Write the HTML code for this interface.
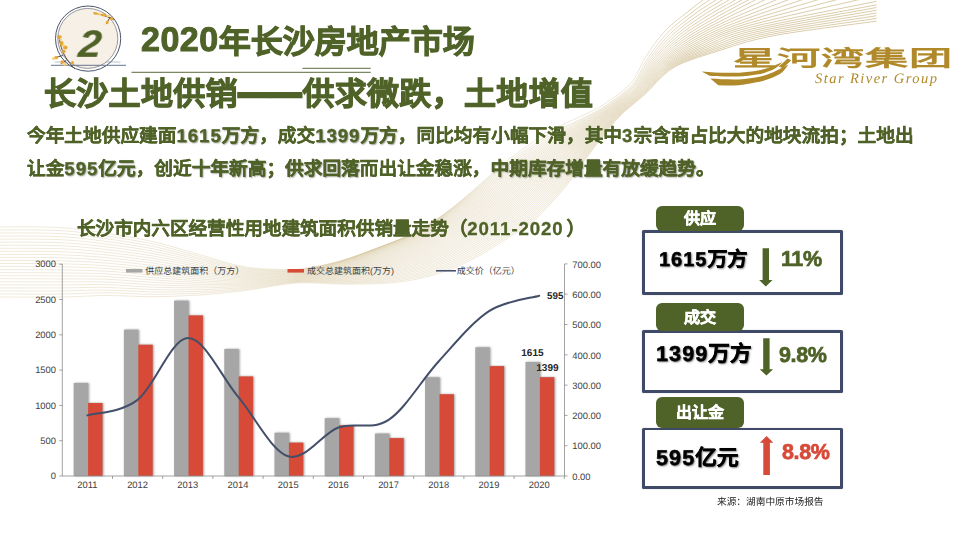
<!DOCTYPE html>
<html lang="zh-CN">
<head>
<meta charset="utf-8">
<title>2020年长沙房地产市场</title>
<style>
html,body{margin:0;padding:0;}
body{text-rendering:geometricPrecision;width:960px;height:540px;position:relative;overflow:hidden;background:#fff;font-family:"Liberation Sans",sans-serif;}
.abs{position:absolute;white-space:nowrap;}
div.abs,.lab{will-change:transform;}
#bg{position:absolute;left:0;top:0;}
.h1{left:141px;top:22px;font-size:32px;font-weight:bold;color:#4f6228;line-height:40px;-webkit-text-stroke:1px #4f6228;}
.d{letter-spacing:0.05em;}
.d2{letter-spacing:0.9px;}
.h2{left:44px;top:74px;font-size:32px;font-weight:bold;color:#4f6228;line-height:40px;letter-spacing:0.3px;-webkit-text-stroke:1px #4f6228;}
.p{left:27px;font-size:18.67px;font-weight:bold;color:#4f6228;line-height:28px;-webkit-text-stroke:0.3px #4f6228;}
.em{text-shadow:1px 1px 1.5px rgba(30,40,10,.5);}
.ct{left:77px;top:215.5px;letter-spacing:-0.07px;font-size:18.67px;font-weight:bold;color:#4f6228;line-height:26px;-webkit-text-stroke:0.3px #4f6228;}
.badge-num{left:73.3px;top:25px;width:34px;text-align:center;font-size:38px;-webkit-text-stroke:0.2px #4f6228;transform:scaleX(1.08) skewX(-5deg);font-weight:bold;font-style:italic;color:#4f6228;line-height:40px;}
.box{position:absolute;left:642px;width:201px;border-radius:1.5px;background:#3f4a68;box-shadow:0 0 2px rgba(0,0,0,.15);}
.box::after{content:"";position:absolute;left:2.7px;top:2.7px;right:2.7px;bottom:2.7px;background:#fff;}
.lab{position:absolute;left:656px;width:88px;height:25px;border-radius:6px;background:#4f6228;color:#fff;font-weight:bold;font-size:16px;line-height:26px;text-align:center;-webkit-text-stroke:0.5px #fff;}
.val{font-size:20px;font-weight:bold;color:#000;line-height:26px;text-shadow:1px 1px 2px rgba(0,0,0,.6);-webkit-text-stroke:0.5px #000;}
.pct{font-size:21.5px;font-weight:bold;line-height:26px;-webkit-text-stroke:0.7px currentColor;letter-spacing:-0.4px;}
.src{left:717px;top:496px;font-size:9.7px;color:#222;line-height:14px;}
.logo{left:733px;top:42.5px;letter-spacing:0.45px;font-size:22px;color:#b08a2a;line-height:32px;font-weight:bold;transform-origin:0 0;transform:scaleX(1.96);}
.logo2{left:815px;top:71px;font-family:"Liberation Serif",serif;font-style:italic;font-size:14.5px;color:#b08a2a;line-height:16px;letter-spacing:1.45px;}
</style>
</head>
<body>
<svg id="bg" width="960" height="540" viewBox="0 0 960 540">
<defs><clipPath id="rc"><rect x="0" y="0" width="876.5" height="540"/></clipPath><linearGradient id="rg" gradientUnits="userSpaceOnUse" x1="0" y1="0" x2="960" y2="0"><stop offset="0" stop-color="#c6b078" stop-opacity="0.45"/><stop offset="0.2" stop-color="#c6b078" stop-opacity="0.48"/><stop offset="0.3" stop-color="#c6b078" stop-opacity="0.4"/><stop offset="0.36" stop-color="#c2aa70" stop-opacity="0.38"/><stop offset="0.5" stop-color="#c2aa70" stop-opacity="0.46"/><stop offset="0.62" stop-color="#c2aa70" stop-opacity="0.46"/><stop offset="0.67" stop-color="#c2aa70" stop-opacity="0.5"/><stop offset="0.72" stop-color="#bfa669" stop-opacity="0.9"/><stop offset="1" stop-color="#bfa669" stop-opacity="1"/></linearGradient><linearGradient id="rg2" gradientUnits="userSpaceOnUse" x1="0" y1="0" x2="960" y2="0"><stop offset="0.295" stop-color="#c2aa70" stop-opacity="0"/><stop offset="0.38" stop-color="#c2aa70" stop-opacity="0.38"/><stop offset="0.5" stop-color="#c2aa70" stop-opacity="0.46"/><stop offset="0.61" stop-color="#c2aa70" stop-opacity="0.46"/><stop offset="0.657" stop-color="#c2aa70" stop-opacity="0"/></linearGradient></defs>
<g clip-path="url(#rc)" fill="none" stroke="url(#rg)" stroke-width="0.6">
<path d="M-40.0 228.0C-34.2 227.8 -21.7 227.1 -5.0 227.0C11.7 226.9 41.5 226.5 60.0 227.6C78.5 228.7 90.7 231.0 106.0 233.3C121.3 235.6 136.7 238.0 152.0 241.4C167.3 244.8 182.3 249.8 197.6 254.0C212.8 258.2 229.3 264.0 243.5 266.6C257.7 269.2 272.8 269.2 283.0 269.5C293.2 269.8 295.5 269.7 305.0 268.3C314.5 266.9 328.0 264.4 340.0 261.0C352.0 257.6 364.7 252.7 377.0 248.0C389.3 243.3 403.5 238.2 414.0 233.0C424.5 227.8 432.0 222.5 440.0 217.0C448.0 211.5 454.5 206.2 462.0 200.0C469.5 193.8 477.6 186.5 485.0 180.0C492.4 173.5 499.4 166.8 506.7 161.0C514.0 155.2 522.3 149.8 529.0 145.0C535.7 140.2 539.0 136.3 546.7 132.0C554.4 127.7 565.6 123.5 575.0 119.0C584.4 114.5 593.7 111.0 603.0 105.0C612.3 99.0 624.0 90.8 631.0 83.0C638.0 75.2 639.3 66.7 645.0 58.0C650.7 49.3 657.5 39.0 665.0 31.0C672.5 23.0 683.7 15.2 690.0 10.0C696.3 4.8 699.8 2.5 703.0 0.0C706.2 -2.5 708.4 -4.2 709.5 -5.0"/>
<path d="M-40.0 231.0C-34.2 230.8 -21.7 230.1 -5.0 230.0C11.7 230.0 41.5 229.6 60.0 230.6C78.5 231.6 90.7 233.8 106.0 236.0C121.3 238.2 136.7 240.5 152.0 243.8C167.3 247.1 182.4 251.8 197.7 255.8C213.0 259.8 229.3 265.2 243.6 267.6C257.8 270.0 272.8 270.0 283.0 270.2C293.2 270.3 295.5 270.2 305.0 268.8C314.5 267.3 328.1 264.7 340.1 261.3C352.1 257.9 364.8 252.9 377.2 248.2C389.5 243.6 403.7 238.4 414.2 233.3C424.7 228.1 432.2 222.8 440.3 217.4C448.4 211.9 455.0 206.7 462.7 200.7C470.4 194.7 478.7 187.7 486.4 181.4C494.1 175.1 501.3 168.7 509.0 163.1C516.7 157.5 525.4 152.5 532.4 147.8C539.4 143.2 543.3 139.5 551.0 135.1C558.6 130.8 569.2 126.5 578.3 121.7C587.3 117.0 596.2 112.7 605.2 106.4C614.3 100.2 625.5 92.2 632.6 84.3C639.6 76.3 641.4 67.5 647.3 58.8C653.2 50.1 660.3 40.2 668.0 32.2C675.7 24.3 686.7 16.5 693.6 11.1C700.5 5.7 705.5 2.8 709.5 0.0C713.4 -2.8 716.1 -4.6 717.4 -5.6"/>
<path d="M-40.0 234.0C-34.2 233.8 -21.7 233.1 -5.0 233.1C11.7 233.0 41.5 232.7 60.0 233.6C78.5 234.6 90.7 236.6 106.0 238.7C121.3 240.8 136.7 243.1 152.0 246.2C167.3 249.4 182.5 253.8 197.8 257.6C213.1 261.3 229.4 266.5 243.6 268.7C257.8 270.9 272.8 270.7 283.0 270.8C293.2 270.9 295.4 270.8 305.0 269.3C314.6 267.8 328.3 265.2 340.3 261.8C352.4 258.3 365.1 253.3 377.5 248.7C389.8 244.0 404.0 238.9 414.6 233.8C425.1 228.7 432.7 223.4 440.9 218.1C449.1 212.7 455.9 207.6 463.7 201.7C471.6 195.9 480.2 189.1 488.1 183.0C496.0 176.9 503.3 170.5 511.2 165.0C519.0 159.5 527.9 154.6 535.0 150.0C542.0 145.3 546.1 141.5 553.6 137.1C561.2 132.6 571.3 128.3 580.1 123.3C588.9 118.3 597.6 113.6 606.5 107.2C615.4 100.9 626.5 93.0 633.5 85.1C640.6 77.1 642.8 68.0 649.0 59.4C655.1 50.8 662.5 41.2 670.6 33.3C678.6 25.5 689.7 17.8 697.2 12.2C704.8 6.7 711.3 3.1 715.9 0.0C720.6 -3.1 723.7 -5.1 725.3 -6.1"/>
<path d="M-40.0 237.0C-34.2 236.9 -21.7 236.2 -5.0 236.1C11.7 236.1 41.5 235.8 60.0 236.7C78.5 237.5 90.7 239.4 106.0 241.4C121.3 243.4 136.7 245.6 152.0 248.6C167.3 251.6 182.6 255.8 197.9 259.3C213.2 262.9 229.5 267.7 243.7 269.7C257.9 271.7 272.8 271.4 283.0 271.5C293.2 271.5 295.4 271.4 305.0 269.8C314.6 268.3 328.4 265.8 340.6 262.3C352.7 258.9 365.5 253.9 377.9 249.3C390.3 244.7 404.4 239.6 415.1 234.5C425.7 229.5 433.3 224.2 441.6 218.9C450.0 213.7 456.9 208.6 464.9 202.9C472.9 197.2 481.7 190.7 489.8 184.7C497.8 178.7 505.3 172.4 513.2 166.9C521.1 161.5 530.1 156.6 537.2 151.9C544.3 147.2 548.5 143.3 555.9 138.7C563.3 134.2 573.0 129.7 581.7 124.6C590.3 119.5 598.7 114.4 607.5 107.9C616.3 101.5 627.2 93.7 634.4 85.7C641.5 77.7 644.1 68.5 650.5 60.0C656.9 51.4 664.6 42.1 673.0 34.4C681.4 26.6 692.6 19.1 700.8 13.4C709.1 7.6 717.0 3.3 722.4 0.0C727.8 -3.3 731.4 -5.6 733.2 -6.7"/>
<path d="M-40.0 240.0C-34.2 239.9 -21.7 239.2 -5.0 239.2C11.7 239.1 41.5 238.8 60.0 239.7C78.5 240.5 90.7 242.2 106.0 244.1C121.3 246.0 136.7 248.2 152.0 251.0C167.3 253.9 182.7 257.8 198.0 261.1C213.3 264.4 229.6 268.9 243.8 270.8C257.9 272.6 272.8 272.2 283.0 272.1C293.2 272.1 295.4 271.9 305.0 270.4C314.6 268.9 328.6 266.4 340.9 263.0C353.1 259.6 365.9 254.7 378.4 250.1C390.9 245.5 405.0 240.4 415.7 235.4C426.4 230.4 434.1 225.2 442.5 220.0C451.0 214.8 458.0 209.8 466.2 204.2C474.4 198.6 483.4 192.3 491.6 186.4C499.8 180.5 507.3 174.2 515.3 168.8C523.3 163.3 532.3 158.4 539.4 153.6C546.5 148.9 550.7 144.9 558.0 140.2C565.2 135.6 574.6 131.0 583.0 125.7C591.4 120.5 599.8 115.1 608.5 108.5C617.1 102.0 627.9 94.4 635.1 86.4C642.4 78.3 645.2 69.0 651.9 60.5C658.6 52.0 666.6 43.0 675.4 35.4C684.1 27.7 695.5 20.4 704.4 14.5C713.4 8.6 722.8 3.6 728.9 0.0C735.0 -3.6 739.1 -6.0 741.1 -7.2"/>
<path d="M-40.0 243.0C-34.2 242.9 -21.7 242.3 -5.0 242.2C11.7 242.2 41.5 241.9 60.0 242.7C78.5 243.5 90.7 245.0 106.0 246.8C121.3 248.6 136.6 250.7 152.0 253.4C167.4 256.1 182.8 259.9 198.1 262.9C213.4 266.0 229.7 270.2 243.8 271.8C258.0 273.4 272.8 272.9 283.0 272.8C293.2 272.6 295.3 272.5 305.0 271.0C314.7 269.5 328.8 267.1 341.2 263.7C353.5 260.4 366.5 255.5 379.0 251.0C391.5 246.4 405.7 241.4 416.4 236.4C427.2 231.5 435.0 226.3 443.5 221.2C452.1 216.0 459.3 211.1 467.6 205.6C475.9 200.1 485.1 194.0 493.4 188.2C501.7 182.4 509.3 176.1 517.3 170.6C525.3 165.1 534.3 160.2 541.4 155.3C548.5 150.5 552.7 146.4 559.9 141.6C567.0 136.9 576.0 132.2 584.3 126.8C592.5 121.4 600.7 115.7 609.3 109.1C617.9 102.4 628.5 94.9 635.8 86.9C643.1 78.9 646.3 69.4 653.3 60.9C660.2 52.5 668.5 43.9 677.7 36.3C686.8 28.8 698.4 21.7 708.0 15.6C717.7 9.6 728.5 3.9 735.3 0.0C742.2 -3.9 746.7 -6.5 749.0 -7.8"/>
<path d="M-40.0 246.0C-34.2 245.9 -21.7 245.3 -5.0 245.3C11.7 245.2 41.5 245.0 60.0 245.7C78.5 246.4 90.7 247.8 106.0 249.5C121.3 251.2 136.6 253.3 152.0 255.8C167.4 258.4 182.9 261.9 198.2 264.7C213.5 267.5 229.8 271.4 243.9 272.8C258.0 274.3 272.8 273.6 283.0 273.4C293.2 273.2 295.2 273.1 305.0 271.6C314.8 270.1 329.1 267.8 341.5 264.5C354.0 261.3 367.1 256.5 379.7 252.0C392.3 247.5 406.4 242.5 417.3 237.6C428.1 232.7 436.0 227.5 444.7 222.5C453.3 217.4 460.7 212.6 469.1 207.1C477.6 201.7 486.9 195.8 495.3 190.0C503.6 184.3 511.3 178.0 519.3 172.4C527.4 166.9 536.3 161.9 543.3 156.9C550.4 152.0 554.6 147.8 561.7 142.9C568.7 138.1 577.4 133.3 585.4 127.8C593.5 122.2 601.6 116.3 610.1 109.6C618.6 102.9 629.1 95.5 636.5 87.5C643.9 79.4 647.3 69.8 654.6 61.4C661.8 53.0 670.4 44.7 679.9 37.3C689.4 29.8 701.3 22.9 711.7 16.7C722.0 10.5 734.3 4.2 741.8 0.0C749.4 -4.2 754.4 -7.0 756.9 -8.4"/>
<path d="M-40.0 249.0C-34.2 248.9 -21.7 248.4 -5.0 248.3C11.7 248.3 41.5 248.1 60.0 248.7C78.5 249.4 90.7 250.6 106.0 252.2C121.3 253.8 136.6 255.9 152.0 258.2C167.4 260.6 183.0 263.9 198.3 266.5C213.7 269.1 229.8 272.6 244.0 273.9C258.1 275.1 272.8 274.3 283.0 274.1C293.2 273.8 295.2 273.7 305.0 272.2C314.8 270.8 329.3 268.6 341.9 265.4C354.5 262.2 367.7 257.5 380.4 253.1C393.1 248.6 407.3 243.7 418.2 238.9C429.1 234.0 437.1 228.9 445.9 223.9C454.6 218.9 462.2 214.1 470.7 208.7C479.3 203.4 488.7 197.6 497.2 191.9C505.6 186.1 513.3 179.8 521.3 174.2C529.3 168.7 538.2 163.5 545.2 158.5C552.2 153.5 556.5 149.1 563.4 144.2C570.2 139.2 578.6 134.4 586.5 128.7C594.5 123.0 602.4 116.9 610.8 110.1C619.3 103.3 629.6 96.0 637.1 88.0C644.6 79.9 648.3 70.2 655.8 61.9C663.3 53.6 672.2 45.5 682.1 38.2C692.0 30.9 704.2 24.2 715.3 17.9C726.3 11.5 740.0 4.5 748.3 0.0C756.5 -4.5 762.0 -7.4 764.8 -8.9"/>
<path d="M-40.0 252.0C-34.2 251.9 -21.7 251.4 -5.0 251.3C11.7 251.3 41.5 251.1 60.0 251.7C78.5 252.3 90.7 253.5 106.0 254.9C121.3 256.4 136.6 258.4 152.0 260.6C167.4 262.9 183.1 265.9 198.4 268.3C213.8 270.6 229.9 273.8 244.0 274.9C258.1 276.0 272.8 275.1 283.0 274.7C293.2 274.4 295.1 274.2 305.0 272.8C314.9 271.4 329.6 269.4 342.3 266.3C355.0 263.2 368.4 258.6 381.2 254.3C394.1 249.9 408.2 245.1 419.2 240.3C430.2 235.5 438.3 230.4 447.2 225.4C456.0 220.4 463.7 215.7 472.4 210.4C481.0 205.1 490.6 199.5 499.1 193.8C507.6 188.0 515.3 181.7 523.3 176.0C531.3 170.4 540.1 165.1 547.0 160.0C554.0 154.9 558.2 150.4 565.0 145.4C571.7 140.3 579.8 135.4 587.6 129.6C595.3 123.8 603.2 117.4 611.6 110.5C619.9 103.7 630.1 96.5 637.7 88.4C645.3 80.4 649.3 70.5 657.0 62.3C664.8 54.1 674.0 46.3 684.3 39.1C694.6 31.9 707.1 25.5 718.9 19.0C730.7 12.5 746.1 4.7 755.2 0.0C764.2 -4.7 770.3 -7.9 773.3 -9.5"/>
<path d="M-40.0 255.0C-34.2 254.9 -21.7 254.4 -5.0 254.4C11.7 254.4 41.5 254.2 60.0 254.8C78.5 255.3 90.7 256.3 106.0 257.6C121.3 259.0 136.6 261.0 152.0 263.0C167.4 265.1 183.2 267.9 198.5 270.0C213.9 272.2 230.0 275.1 244.1 276.0C258.2 276.8 272.8 275.8 283.0 275.4C293.2 275.0 295.1 274.8 305.0 273.5C314.9 272.1 329.8 270.2 342.7 267.2C355.5 264.3 369.2 259.8 382.1 255.6C395.1 251.3 409.2 246.5 420.2 241.8C431.3 237.0 439.6 232.0 448.6 227.0C457.5 222.1 465.4 217.3 474.1 212.1C482.9 206.9 492.5 201.4 501.0 195.7C509.6 190.0 517.3 183.5 525.3 177.8C533.2 172.1 541.9 166.7 548.8 161.5C555.7 156.3 559.9 151.7 566.6 146.5C573.2 141.3 581.0 136.3 588.6 130.4C596.2 124.5 604.0 117.9 612.2 111.0C620.5 104.1 630.6 97.0 638.3 88.9C645.9 80.9 650.2 70.9 658.2 62.7C666.3 54.6 675.8 47.1 686.5 40.0C697.2 32.9 709.5 26.8 722.5 20.1C735.4 13.4 753.8 5.0 764.3 0.0C774.8 -5.0 781.7 -8.4 785.2 -10.0"/>
<path d="M-40.0 258.0C-34.2 257.9 -21.7 257.5 -5.0 257.4C11.7 257.4 41.5 257.3 60.0 257.8C78.5 258.3 90.7 259.1 106.0 260.3C121.3 261.6 136.6 263.5 152.0 265.4C167.4 267.4 183.3 269.9 198.6 271.8C214.0 273.8 230.1 276.3 244.2 277.0C258.2 277.7 272.9 276.5 283.0 276.0C293.1 275.5 295.0 275.4 305.0 274.1C315.0 272.8 330.1 271.1 343.1 268.2C356.1 265.4 370.0 261.1 383.1 257.0C396.1 252.8 410.2 248.1 421.4 243.4C432.5 238.7 441.0 233.7 450.0 228.8C459.1 223.8 467.1 219.1 475.9 213.9C484.7 208.7 494.4 203.3 503.0 197.6C511.6 191.9 519.3 185.4 527.2 179.6C535.2 173.8 543.8 168.3 550.6 163.0C557.4 157.6 561.6 152.9 568.1 147.6C574.6 142.3 582.1 137.3 589.5 131.2C597.0 125.2 604.7 118.4 612.9 111.4C621.1 104.4 631.1 97.4 638.8 89.4C646.6 81.3 651.1 71.2 659.4 63.1C667.7 55.1 677.5 47.9 688.6 40.9C699.7 33.9 711.6 28.0 726.1 21.2C740.6 14.4 763.4 5.3 775.8 0.0C788.2 -5.3 796.5 -8.8 800.6 -10.6"/>
<path d="M-40.0 261.0C-34.2 260.9 -21.7 260.5 -5.0 260.5C11.7 260.4 41.5 260.4 60.0 260.8C78.5 261.2 90.7 261.9 106.0 263.0C121.3 264.2 136.5 266.1 152.0 267.8C167.5 269.6 183.4 271.9 198.7 273.6C214.1 275.3 230.2 277.5 244.2 278.0C258.3 278.5 272.9 277.2 283.0 276.7C293.1 276.1 294.9 276.0 305.0 274.7C315.1 273.5 330.4 272.0 343.6 269.3C356.7 266.5 370.9 262.5 384.1 258.4C397.2 254.4 411.4 249.8 422.6 245.1C433.9 240.5 442.4 235.5 451.6 230.6C460.8 225.7 468.8 220.9 477.7 215.7C486.6 210.5 496.4 205.3 505.0 199.5C513.6 193.8 521.3 187.2 529.2 181.3C537.1 175.5 545.6 169.8 552.3 164.4C559.0 159.0 563.2 154.1 569.6 148.7C575.9 143.3 583.1 138.2 590.5 132.0C597.8 125.9 605.4 118.8 613.5 111.8C621.7 104.8 631.5 97.8 639.4 89.8C647.2 81.8 652.0 71.5 660.5 63.5C669.1 55.5 679.2 48.7 690.7 41.8C702.3 34.9 713.5 29.3 729.7 22.3C745.9 15.4 773.2 5.6 787.7 0.0C802.2 -5.6 811.9 -9.3 816.8 -11.2"/>
<path d="M-40.0 264.0C-34.2 263.9 -21.7 263.6 -5.0 263.5C11.7 263.5 41.5 263.4 60.0 263.8C78.5 264.2 90.7 264.7 106.0 265.8C121.3 266.8 136.5 268.6 152.0 270.3C167.5 271.9 183.5 273.9 198.9 275.4C214.2 276.9 230.3 278.7 244.3 279.1C258.3 279.4 272.9 277.9 283.0 277.3C293.1 276.7 294.8 276.6 305.0 275.4C315.2 274.2 330.7 272.9 344.0 270.3C357.4 267.8 371.8 263.9 385.1 260.0C398.4 256.1 412.5 251.5 423.9 246.9C435.2 242.3 443.9 237.3 453.2 232.5C462.5 227.6 470.6 222.8 479.6 217.6C488.6 212.4 498.4 207.3 507.0 201.5C515.6 195.8 523.3 189.1 531.1 183.1C538.9 177.1 547.3 171.4 554.0 165.8C560.6 160.2 564.8 155.3 571.0 149.8C577.2 144.3 584.2 139.0 591.4 132.8C598.6 126.5 606.1 119.3 614.1 112.2C622.2 105.1 632.0 98.3 639.9 90.2C647.8 82.2 652.8 71.9 661.6 63.9C670.5 56.0 680.9 49.4 692.8 42.7C704.8 35.9 715.2 30.6 733.3 23.5C751.4 16.3 784.3 5.9 801.3 0.0C818.3 -5.9 829.6 -9.8 835.3 -11.7"/>
<path d="M-40.0 267.0C-34.2 266.9 -21.7 266.6 -5.0 266.6C11.7 266.5 41.5 266.5 60.0 266.8C78.5 267.1 90.7 267.5 106.0 268.5C121.3 269.4 136.5 271.2 152.0 272.7C167.5 274.1 183.6 275.9 199.0 277.2C214.3 278.4 230.3 280.0 244.3 280.1C258.4 280.2 272.9 278.7 283.0 278.0C293.1 277.3 294.8 277.1 305.0 276.0C315.2 275.0 331.0 273.8 344.5 271.4C358.0 269.0 372.8 265.4 386.2 261.6C399.7 257.9 413.8 253.4 425.2 248.8C436.7 244.3 445.5 239.3 454.9 234.4C464.3 229.5 472.5 224.7 481.5 219.5C490.6 214.4 500.4 209.3 509.0 203.5C517.6 197.7 525.3 190.9 533.0 184.8C540.8 178.8 549.1 172.9 555.6 167.2C562.2 161.5 566.3 156.4 572.4 150.8C578.5 145.2 585.2 139.9 592.3 133.5C599.3 127.1 606.7 119.7 614.7 112.6C622.8 105.5 632.4 98.7 640.4 90.6C648.4 82.6 653.7 72.2 662.7 64.3C671.8 56.5 682.6 50.2 694.9 43.6C707.3 36.9 716.6 31.8 736.9 24.6C757.3 17.3 797.0 6.1 817.0 0.0C837.1 -6.1 850.4 -10.2 857.1 -12.3"/>
<path d="M-40.0 270.0C-34.2 269.9 -21.7 269.6 -5.0 269.6C11.7 269.6 41.5 269.6 60.0 269.8C78.5 270.1 90.7 270.3 106.0 271.2C121.3 272.0 136.5 273.8 152.0 275.1C167.5 276.4 183.7 277.9 199.1 279.0C214.5 280.0 230.4 281.2 244.4 281.1C258.4 281.1 272.9 279.4 283.0 278.6C293.1 277.9 294.7 277.7 305.0 276.7C315.3 275.7 331.3 274.8 345.0 272.6C358.7 270.4 373.8 267.0 387.4 263.4C401.0 259.7 415.1 255.3 426.7 250.8C438.2 246.3 447.1 241.4 456.6 236.5C466.1 231.6 474.4 226.7 483.5 221.5C492.6 216.3 502.5 211.3 511.1 205.5C519.6 199.7 527.3 192.7 535.0 186.6C542.7 180.4 550.8 174.3 557.2 168.5C563.7 162.7 567.8 157.5 573.8 151.8C579.7 146.1 586.2 140.7 593.1 134.2C600.0 127.7 607.3 120.2 615.3 113.0C623.3 105.8 632.8 99.1 640.9 91.1C649.0 83.0 654.5 72.5 663.8 64.7C673.2 57.0 684.2 50.9 697.0 44.4C709.8 37.9 717.4 33.1 740.5 25.7C763.6 18.3 811.8 6.4 835.6 0.0C859.3 -6.4 875.2 -10.7 883.1 -12.9"/>
<path d="M-40.0 273.0C-34.2 272.9 -21.7 272.7 -5.0 272.7C11.7 272.6 41.5 272.7 60.0 272.9C78.5 273.1 90.7 273.1 106.0 273.9C121.3 274.6 136.5 276.3 152.0 277.5C167.5 278.6 183.8 280.0 199.2 280.7C214.6 281.5 230.5 282.4 244.5 282.2C258.5 281.9 272.9 280.1 283.0 279.3C293.1 278.5 294.6 278.3 305.0 277.4C315.4 276.4 331.6 275.8 345.5 273.8C359.4 271.7 374.8 268.6 388.6 265.2C402.4 261.7 416.5 257.3 428.1 252.9C439.8 248.5 448.9 243.5 458.4 238.6C468.0 233.7 476.4 228.7 485.5 223.5C494.6 218.3 504.6 213.4 513.1 207.5C521.7 201.6 529.3 194.6 536.9 188.3C544.5 182.0 552.5 175.8 558.8 169.9C565.2 163.9 569.2 158.6 575.1 152.8C580.9 146.9 587.1 141.5 593.9 134.9C600.7 128.3 608.0 120.6 615.9 113.3C623.8 106.1 633.2 99.5 641.4 91.5C649.5 83.4 655.3 72.8 664.9 65.1C674.5 57.4 685.8 51.7 699.0 45.3C712.2 38.9 717.7 34.4 744.1 26.8C770.5 19.3 829.0 6.7 857.3 0.0C885.7 -6.7 904.5 -11.2 914.0 -13.4"/>
<path d="M-40.0 276.0C-34.2 275.9 -21.7 275.7 -5.0 275.7C11.7 275.7 41.5 275.7 60.0 275.9C78.5 276.0 90.7 275.9 106.0 276.6C121.3 277.2 136.5 278.9 152.0 279.9C167.5 280.9 183.8 282.0 199.3 282.5C214.7 283.1 230.6 283.7 244.5 283.2C258.5 282.8 272.9 280.8 283.0 279.9C293.1 279.1 294.5 278.9 305.0 278.0C315.5 277.2 331.9 276.8 346.0 275.0C360.2 273.1 375.9 270.3 389.9 267.0C403.8 263.7 417.9 259.4 429.7 255.0C441.4 250.7 450.7 245.7 460.3 240.8C470.0 235.9 478.4 230.8 487.6 225.6C496.7 220.4 506.7 215.4 515.2 209.5C523.7 203.6 531.3 196.4 538.8 190.0C546.3 183.7 554.1 177.2 560.4 171.2C566.7 165.1 570.7 159.7 576.4 153.7C582.1 147.8 588.1 142.3 594.7 135.6C601.4 128.9 608.6 121.0 616.4 113.7C624.3 106.4 633.6 99.9 641.9 91.8C650.1 83.8 656.1 73.1 665.9 65.5C675.8 57.9 687.4 52.4 701.1 46.1C714.7 39.9 719.1 35.3 747.7 27.9C776.3 20.6 841.4 8.6 872.7 2.1C903.9 -4.4 924.7 -8.7 935.1 -10.8"/>
<path d="M-40.0 279.0C-34.2 279.0 -21.7 278.8 -5.0 278.7C11.7 278.7 41.5 278.8 60.0 278.9C78.5 279.0 90.7 278.7 106.0 279.3C121.3 279.8 136.4 281.4 152.0 282.3C167.6 283.1 183.9 284.0 199.4 284.3C214.8 284.6 230.7 284.9 244.6 284.3C258.5 283.6 272.9 281.5 283.0 280.6C293.1 279.7 294.4 279.4 305.0 278.7C315.6 278.0 332.2 277.8 346.5 276.2C360.9 274.6 377.1 272.1 391.2 269.0C405.3 265.8 419.4 261.6 431.3 257.3C443.1 253.0 452.5 248.0 462.2 243.1C472.0 238.1 480.5 232.9 489.7 227.7C498.8 222.4 508.8 217.5 517.3 211.6C525.8 205.6 533.2 198.3 540.7 191.8C548.1 185.3 555.8 178.7 562.0 172.5C568.1 166.3 572.1 160.7 577.7 154.7C583.3 148.6 589.0 143.0 595.5 136.3C602.1 129.5 609.2 121.4 617.0 114.0C624.8 106.7 634.0 100.3 642.3 92.2C650.7 84.2 656.9 73.4 667.0 65.9C677.1 58.3 689.0 53.1 703.1 47.0C717.2 40.9 722.5 36.1 751.3 29.1C780.2 22.1 844.8 11.0 876.0 4.9C907.2 -1.1 927.9 -5.1 938.3 -7.2"/>
<path d="M-40.0 282.0C-34.2 282.0 -21.7 281.8 -5.0 281.8C11.7 281.8 41.5 281.9 60.0 281.9C78.5 281.9 90.7 281.5 106.0 282.0C121.3 282.4 136.4 284.0 152.0 284.7C167.6 285.4 184.0 286.0 199.5 286.1C214.9 286.2 230.8 286.1 244.7 285.3C258.6 284.5 272.9 282.2 283.0 281.2C293.1 280.3 294.3 280.0 305.0 279.4C315.7 278.7 332.5 278.9 347.1 277.5C361.7 276.1 378.2 273.9 392.5 271.0C406.8 268.0 421.0 263.9 432.9 259.6C444.9 255.4 454.4 250.4 464.2 245.4C474.0 240.4 482.6 235.1 491.8 229.8C501.0 224.5 510.9 219.7 519.4 213.6C527.8 207.5 535.2 200.1 542.6 193.5C549.9 186.8 557.5 180.1 563.5 173.8C569.6 167.5 573.5 161.7 579.0 155.6C584.4 149.4 589.9 143.8 596.3 136.9C602.7 130.0 609.8 121.8 617.5 114.4C625.2 107.0 634.4 100.6 642.8 92.6C651.2 84.6 657.6 73.7 668.0 66.2C678.4 58.8 690.6 53.8 705.1 47.8C719.6 41.8 726.5 36.9 755.0 30.2C783.4 23.5 845.7 13.3 876.0 7.6C906.3 2.0 926.4 -1.8 936.5 -3.6"/>
<path d="M-40.0 285.0C-34.2 285.0 -21.7 284.8 -5.0 284.8C11.7 284.8 41.5 285.0 60.0 284.9C78.5 284.9 90.7 284.3 106.0 284.7C121.3 285.0 136.4 286.6 152.0 287.1C167.6 287.6 184.1 288.0 199.6 287.9C215.0 287.7 230.8 287.3 244.7 286.3C258.6 285.3 273.0 282.9 283.0 281.9C293.0 280.8 294.2 280.6 305.0 280.1C315.8 279.5 332.8 279.9 347.7 278.8C362.5 277.6 379.4 275.8 393.9 273.0C408.4 270.3 422.6 266.2 434.6 262.0C446.7 257.8 456.4 252.8 466.3 247.8C476.2 242.8 484.8 237.3 494.0 232.0C503.2 226.6 513.1 221.8 521.5 215.7C529.9 209.5 537.2 202.0 544.5 195.2C551.7 188.4 559.1 181.5 565.0 175.0C571.0 168.6 574.9 162.7 580.2 156.5C585.5 150.2 590.8 144.5 597.1 137.5C603.4 130.6 610.3 122.1 618.0 114.7C625.7 107.3 634.7 101.0 643.2 93.0C651.8 85.0 658.4 74.0 669.0 66.6C679.7 59.2 692.2 54.6 707.1 48.7C722.0 42.8 730.4 37.7 758.6 31.3C786.7 24.9 846.6 15.6 876.0 10.3C905.4 5.1 924.9 1.6 934.7 -0.1"/>
<path d="M-40.0 288.0C-34.2 288.0 -21.7 287.9 -5.0 287.9C11.7 287.9 41.5 288.0 60.0 287.9C78.5 287.9 90.7 287.1 106.0 287.4C121.3 287.6 136.4 289.1 152.0 289.5C167.6 289.9 184.2 290.0 199.7 289.7C215.2 289.3 230.9 288.6 244.8 287.4C258.7 286.2 273.0 283.7 283.0 282.5C293.0 281.4 294.1 281.1 305.0 280.7C315.9 280.3 333.2 281.0 348.2 280.1C363.3 279.2 380.7 277.8 395.4 275.2C410.1 272.6 424.2 268.7 436.4 264.5C448.6 260.3 458.4 255.3 468.4 250.2C478.3 245.2 487.0 239.6 496.2 234.2C505.4 228.8 515.2 223.9 523.6 217.7C532.0 211.5 539.2 203.8 546.4 196.9C553.5 190.0 560.7 182.9 566.6 176.3C572.4 169.7 576.2 163.7 581.4 157.4C586.6 151.0 591.6 145.2 597.8 138.2C604.0 131.1 610.9 122.5 618.5 115.0C626.2 107.6 635.1 101.4 643.7 93.3C652.3 85.3 659.1 74.2 670.0 66.9C680.9 59.6 693.7 55.3 709.1 49.5C724.4 43.8 734.4 38.5 762.2 32.4C790.0 26.4 847.5 17.9 876.0 13.1C904.5 8.2 923.4 5.0 932.9 3.4"/>
<path d="M-40.0 291.0C-34.2 291.0 -21.7 290.9 -5.0 290.9C11.7 290.9 41.5 291.1 60.0 291.0C78.5 290.8 90.7 289.9 106.0 290.1C121.3 290.2 136.4 291.7 152.0 291.9C167.6 292.1 184.3 292.0 199.8 291.4C215.3 290.9 231.0 289.8 244.9 288.4C258.7 287.0 273.0 284.4 283.0 283.2C293.0 282.0 294.0 281.7 305.0 281.4C316.0 281.1 333.5 282.1 348.8 281.4C364.1 280.8 382.0 279.8 396.9 277.4C411.8 275.0 425.9 271.2 438.2 267.1C450.5 263.0 460.5 257.9 470.5 252.8C480.6 247.7 489.2 241.9 498.4 236.4C507.6 230.9 517.4 226.1 525.7 219.8C534.0 213.5 541.2 205.6 548.2 198.6C555.3 191.6 562.3 184.3 568.1 177.5C573.8 170.8 577.6 164.7 582.6 158.3C587.7 151.8 592.5 145.9 598.6 138.8C604.6 131.6 611.4 122.9 619.0 115.4C626.6 107.9 635.5 101.7 644.1 93.7C652.8 85.7 659.9 74.5 671.0 67.3C682.2 60.1 695.3 56.0 711.1 50.3C726.9 44.7 738.3 39.3 765.8 33.6C793.3 27.8 848.4 20.2 876.0 15.8C903.6 11.3 921.9 8.4 931.1 6.9"/>
<path d="M-40.0 294.0C-34.2 294.0 -21.7 294.0 -5.0 294.0C11.7 294.0 41.5 294.2 60.0 294.0C78.5 293.8 90.7 292.7 106.0 292.8C121.3 292.8 136.4 294.2 152.0 294.3C167.6 294.4 184.4 294.0 199.9 293.2C215.4 292.4 231.1 291.0 244.9 289.5C258.8 287.9 273.0 285.1 283.0 283.8C293.0 282.6 293.9 282.3 305.0 282.1C316.1 281.9 333.8 283.2 349.4 282.8C365.0 282.4 383.3 281.9 398.4 279.7C413.5 277.5 427.7 273.7 440.1 269.7C452.5 265.6 462.6 260.5 472.7 255.4C482.8 250.2 491.5 244.3 500.7 238.7C509.9 233.1 519.6 228.3 527.9 221.9C536.1 215.5 543.2 207.5 550.1 200.3C557.1 193.1 563.9 185.6 569.5 178.8C575.1 171.9 578.9 165.7 583.8 159.1C588.8 152.6 593.3 146.6 599.3 139.4C605.2 132.2 612.0 123.2 619.5 115.7C627.1 108.1 635.8 102.1 644.6 94.1C653.3 86.0 660.6 74.8 672.0 67.7C683.4 60.5 696.8 56.7 713.0 51.2C729.3 45.7 742.2 40.1 769.4 34.7C796.6 29.2 849.3 22.5 876.0 18.5C902.7 14.4 920.4 11.7 929.3 10.4"/>
<path d="M-40.0 297.0C-34.2 297.0 -21.7 297.0 -5.0 297.0C11.7 297.0 41.5 297.2 60.0 297.0C78.5 296.8 90.7 295.6 106.0 295.5C121.3 295.4 136.3 296.8 152.0 296.7C167.7 296.6 184.5 296.0 200.0 295.0C215.5 294.0 231.2 292.2 245.0 290.5C258.8 288.8 273.0 285.8 283.0 284.5C293.0 283.2 293.8 282.9 305.0 282.8C316.2 282.8 334.2 284.3 350.0 284.2C365.8 284.1 384.7 284.0 400.0 282.0C415.3 280.0 429.5 276.4 442.0 272.4C454.5 268.4 464.8 263.2 475.0 258.0C485.2 252.8 493.8 246.7 503.0 241.0C512.2 235.3 521.8 230.5 530.0 224.0C538.2 217.5 545.2 209.3 552.0 202.0C558.8 194.7 565.5 187.0 571.0 180.0C576.5 173.0 580.2 166.7 585.0 160.0C589.8 153.3 594.2 147.3 600.0 140.0C605.8 132.7 612.5 123.6 620.0 116.0C627.5 108.4 636.2 102.4 645.0 94.4C653.8 86.4 661.3 75.1 673.0 68.0C684.7 60.9 698.3 57.4 715.0 52.0C731.7 46.6 746.2 40.9 773.0 35.8C799.8 30.7 850.2 24.8 876.0 21.2C901.8 17.6 918.9 15.1 927.5 13.9"/>
</g>
<g fill="none" stroke="url(#rg2)" stroke-width="0.6">
<path d="M283.0 269.5C286.7 269.3 295.5 269.8 305.0 268.4C314.5 267.0 328.0 264.5 340.0 261.1C352.0 257.7 364.7 252.7 377.1 248.1C389.4 243.4 403.6 238.2 414.1 233.1C424.6 227.9 432.1 222.6 440.1 217.1C448.1 211.7 454.7 206.4 462.3 200.3C469.9 194.2 478.1 187.0 485.7 180.7C493.3 174.3 500.3 167.7 507.9 162.1C515.4 156.4 524.1 151.3 531.0 146.6C537.9 141.9 541.6 138.2 549.3 133.9C557.1 129.6 568.1 125.6 577.3 121.0C586.6 116.3 595.7 112.4 604.9 106.2C614.1 100.1 628.0 87.9 632.6 84.3"/>
<path d="M283.0 270.2C286.7 269.9 295.5 270.3 305.0 268.9C314.5 267.4 328.2 264.9 340.2 261.5C352.2 258.1 364.9 253.1 377.3 248.4C389.7 243.8 403.8 238.6 414.4 233.5C424.9 228.4 432.4 223.1 440.6 217.7C448.7 212.3 455.4 207.1 463.2 201.2C471.0 195.3 479.4 188.4 487.2 182.2C495.1 176.0 502.3 169.6 510.1 164.1C517.8 158.5 526.7 153.6 533.7 148.9C540.8 144.3 544.8 140.5 552.4 136.1C560.0 131.8 570.4 127.6 579.4 122.7C588.4 117.9 597.2 113.4 606.2 107.1C615.3 100.8 629.0 88.7 633.5 85.1"/>
<path d="M283.0 270.8C286.7 270.6 295.4 270.9 305.0 269.4C314.6 267.9 328.3 265.4 340.4 262.0C352.5 258.6 365.3 253.6 377.7 249.0C390.1 244.3 404.2 239.2 414.8 234.1C425.4 229.0 433.0 223.8 441.3 218.5C449.5 213.2 456.3 208.1 464.3 202.3C472.2 196.5 480.9 189.9 488.9 183.8C496.9 177.8 504.3 171.5 512.2 166.0C520.1 160.5 529.0 155.6 536.1 150.9C543.2 146.3 547.3 142.4 554.8 137.9C562.3 133.4 572.3 129.1 581.1 124.1C589.8 119.1 598.4 114.2 607.3 107.8C616.2 101.4 629.9 89.4 634.4 85.7"/>
<path d="M283.0 271.5C286.7 271.2 295.4 271.4 305.0 270.0C314.6 268.5 328.5 266.0 340.7 262.6C352.9 259.2 365.7 254.3 378.1 249.7C390.6 245.1 404.7 240.0 415.4 234.9C426.0 229.9 433.7 224.7 442.1 219.4C450.4 214.2 457.4 209.2 465.5 203.5C473.6 197.9 482.6 191.5 490.7 185.5C498.8 179.6 506.3 173.3 514.3 167.9C522.2 162.4 531.2 157.5 538.3 152.8C545.4 148.0 549.6 144.1 557.0 139.5C564.3 134.9 573.9 130.5 582.5 125.3C591.0 120.1 599.5 114.9 608.3 108.4C617.0 101.9 630.6 90.0 635.1 86.4"/>
<path d="M283.0 272.1C286.7 271.8 295.3 272.0 305.0 270.5C314.7 269.1 328.7 266.6 341.0 263.3C353.3 260.0 366.2 255.1 378.7 250.5C391.2 245.9 405.3 240.9 416.1 235.9C426.8 230.9 434.6 225.7 443.0 220.5C451.5 215.4 458.7 210.5 466.9 204.9C475.2 199.4 484.2 193.2 492.5 187.3C500.7 181.4 508.3 175.2 516.3 169.7C524.3 164.2 533.3 159.3 540.4 154.5C547.5 149.7 551.7 145.6 558.9 140.9C566.2 136.3 575.4 131.7 583.8 126.4C592.2 121.0 600.5 115.5 609.1 109.0C617.8 102.4 631.4 90.6 635.8 86.9"/>
<path d="M283.0 272.8C286.7 272.5 295.3 272.6 305.0 271.1C314.7 269.7 328.9 267.3 341.3 264.1C353.7 260.8 366.7 256.0 379.3 251.4C391.9 246.9 406.0 241.9 416.8 237.0C427.6 232.1 435.5 226.9 444.1 221.8C452.7 216.7 460.0 211.8 468.4 206.4C476.8 200.9 486.0 194.9 494.3 189.1C502.7 183.3 510.3 177.0 518.3 171.5C526.3 166.0 535.3 161.0 542.4 156.1C549.4 151.3 553.7 147.1 560.8 142.3C567.9 137.5 576.8 132.8 585.0 127.4C593.2 121.9 601.4 116.1 609.9 109.5C618.5 102.8 632.0 91.1 636.5 87.5"/>
<path d="M283.0 273.4C286.7 273.1 295.2 273.2 305.0 271.7C314.8 270.3 329.2 268.1 341.7 264.9C354.2 261.7 367.4 256.9 380.0 252.5C392.7 248.1 406.8 243.1 417.7 238.2C428.6 233.3 436.6 228.2 445.3 223.2C454.0 218.1 461.4 213.3 469.9 207.9C478.4 202.6 487.8 196.7 496.2 191.0C504.6 185.2 512.3 178.9 520.3 173.3C528.3 167.8 537.3 162.7 544.3 157.7C551.3 152.8 555.5 148.5 562.5 143.6C569.5 138.7 578.1 133.9 586.1 128.3C594.1 122.7 602.2 116.7 610.7 110.0C619.2 103.3 632.7 91.6 637.1 88.0"/>
<path d="M283.0 274.1C286.7 273.8 295.2 273.7 305.0 272.3C314.8 271.0 329.4 268.9 342.0 265.7C354.7 262.6 368.1 258.0 380.8 253.7C393.6 249.3 407.7 244.4 418.7 239.6C429.6 234.7 437.7 229.6 446.5 224.6C455.3 219.6 463.0 214.9 471.6 209.6C480.2 204.3 489.7 198.6 498.1 192.8C506.6 187.1 514.3 180.7 522.3 175.1C530.3 169.5 539.2 164.3 546.1 159.3C553.1 154.2 557.3 149.8 564.2 144.8C571.0 139.8 579.3 134.9 587.2 129.2C595.0 123.5 603.0 117.2 611.4 110.4C619.8 103.6 633.3 92.1 637.7 88.4"/>
<path d="M283.0 274.7C286.7 274.4 295.1 274.3 305.0 273.0C314.9 271.6 329.7 269.7 342.4 266.7C355.2 263.7 368.8 259.2 381.7 254.9C394.6 250.6 408.7 245.8 419.7 241.0C430.7 236.2 438.9 231.2 447.9 226.2C456.8 221.2 464.5 216.5 473.2 211.2C481.9 206.0 491.5 200.4 500.1 194.7C508.6 189.0 516.3 182.6 524.3 176.9C532.3 171.3 541.0 165.9 547.9 160.8C554.9 155.6 559.1 151.1 565.8 145.9C572.5 140.8 580.5 135.9 588.2 130.1C595.9 124.2 603.8 117.8 612.1 110.9C620.4 104.0 633.9 92.6 638.3 88.9"/>
<path d="M283.0 275.4C286.7 275.1 295.0 274.9 305.0 273.6C315.0 272.3 329.9 270.5 342.9 267.6C355.8 264.7 369.6 260.4 382.6 256.3C395.6 252.1 409.7 247.3 420.8 242.6C431.9 237.8 440.3 232.8 449.3 227.9C458.3 223.0 466.2 218.2 475.0 213.0C483.8 207.8 493.5 202.4 502.0 196.6C510.6 190.9 518.3 184.4 526.3 178.7C534.2 173.0 542.9 167.5 549.7 162.3C556.5 157.0 560.7 152.3 567.3 147.1C573.9 141.9 581.6 136.9 589.2 130.9C596.7 124.9 604.5 118.2 612.8 111.3C621.0 104.4 634.5 93.0 638.8 89.4"/>
<path d="M283.0 276.0C286.7 275.7 295.0 275.5 305.0 274.2C315.0 273.0 330.2 271.4 343.3 268.6C356.4 265.9 370.4 261.8 383.6 257.7C396.7 253.6 410.8 248.9 422.0 244.2C433.2 239.6 441.7 234.6 450.8 229.6C459.9 224.7 467.9 220.0 476.8 214.8C485.7 209.6 495.4 204.3 504.0 198.6C512.6 192.9 520.3 186.3 528.2 180.5C536.1 174.7 544.7 169.1 551.4 163.7C558.2 158.3 562.4 153.5 568.8 148.2C575.3 142.8 582.7 137.8 590.1 131.7C597.5 125.6 605.2 118.7 613.4 111.7C621.6 104.7 635.0 93.5 639.4 89.8"/>
<path d="M283.0 276.7C286.7 276.4 294.9 276.0 305.0 274.9C315.1 273.7 330.5 272.3 343.7 269.7C357.0 267.1 371.3 263.2 384.6 259.2C397.8 255.3 411.9 250.6 423.2 246.0C434.5 241.4 443.1 236.4 452.4 231.5C461.6 226.6 469.7 221.8 478.7 216.7C487.6 211.5 497.4 206.3 506.0 200.5C514.6 194.8 522.3 188.1 530.1 182.2C538.0 176.3 546.4 170.6 553.1 165.1C559.8 159.6 564.0 154.7 570.3 149.2C576.6 143.8 583.7 138.6 591.0 132.5C598.3 126.3 605.9 119.2 614.0 112.1C622.2 105.1 635.6 93.9 639.9 90.2"/>
<path d="M283.0 277.3C286.7 277.0 294.8 276.6 305.0 275.5C315.2 274.4 330.8 273.2 344.2 270.8C357.7 268.3 372.3 264.6 385.7 260.8C399.1 257.0 413.2 252.4 424.6 247.9C435.9 243.3 444.7 238.3 454.0 233.4C463.4 228.5 471.6 223.7 480.6 218.6C489.6 213.4 499.4 208.3 508.0 202.5C516.6 196.7 524.3 190.0 532.1 184.0C539.9 178.0 548.2 172.1 554.8 166.5C561.4 160.9 565.5 155.8 571.7 150.3C577.9 144.7 584.8 139.5 591.9 133.2C599.1 126.9 606.5 119.6 614.6 112.5C622.7 105.4 636.1 94.3 640.4 90.6"/>
<path d="M283.0 278.0C286.7 277.7 294.7 277.2 305.0 276.2C315.3 275.2 331.1 274.2 344.7 271.9C358.3 269.6 373.3 266.2 386.8 262.5C400.3 258.8 414.4 254.3 425.9 249.8C437.4 245.3 446.3 240.3 455.7 235.4C465.2 230.6 473.5 225.7 482.5 220.5C491.6 215.4 501.5 210.3 510.0 204.5C518.6 198.7 526.3 191.8 534.0 185.7C541.7 179.6 549.9 173.6 556.4 167.9C562.9 162.1 567.0 156.9 573.1 151.3C579.1 145.6 585.7 140.3 592.8 133.9C599.8 127.5 607.2 120.0 615.2 112.9C623.2 105.7 636.6 94.7 640.9 91.1"/>
<path d="M283.0 278.6C286.7 278.3 294.6 277.8 305.0 276.8C315.4 275.9 331.4 275.1 345.2 273.0C359.0 270.9 374.3 267.8 388.0 264.3C401.7 260.7 415.8 256.3 427.4 251.8C439.0 247.4 448.0 242.4 457.5 237.5C467.0 232.6 475.4 227.7 484.5 222.5C493.6 217.3 503.5 212.3 512.1 206.5C520.7 200.6 528.3 193.7 535.9 187.5C543.6 181.2 551.6 175.1 558.0 169.2C564.5 163.3 568.5 158.0 574.4 152.3C580.4 146.5 586.7 141.1 593.6 134.6C600.5 128.1 607.8 120.5 615.8 113.3C623.7 106.1 637.1 95.1 641.4 91.5"/>
<path d="M283.0 279.3C286.7 279.0 294.5 278.3 305.0 277.5C315.5 276.7 331.7 276.1 345.7 274.2C359.7 272.3 375.4 269.5 389.2 266.1C403.1 262.7 417.2 258.4 428.9 254.0C440.6 249.6 449.8 244.6 459.4 239.7C469.0 234.8 477.4 229.7 486.5 224.5C495.7 219.3 505.6 214.4 514.2 208.5C522.7 202.6 530.3 195.5 537.8 189.2C545.4 182.9 553.3 176.5 559.6 170.5C565.9 164.5 570.0 159.1 575.8 153.2C581.6 147.4 587.7 141.9 594.4 135.3C601.2 128.7 608.4 120.9 616.3 113.6C624.2 106.4 637.6 95.5 641.9 91.8"/>
<path d="M283.0 279.9C286.7 279.6 294.5 278.9 305.0 278.2C315.5 277.4 332.0 277.1 346.2 275.4C360.5 273.8 376.5 271.2 390.5 268.0C404.6 264.8 418.7 260.5 430.5 256.2C442.2 251.8 451.6 246.8 461.3 241.9C471.0 237.0 479.5 231.9 488.6 226.6C497.8 221.4 507.7 216.5 516.2 210.5C524.7 204.6 532.2 197.4 539.7 190.9C547.2 184.5 555.0 178.0 561.2 171.8C567.4 165.7 571.4 160.2 577.1 154.2C582.7 148.2 588.6 142.7 595.2 136.0C601.9 129.3 609.0 121.3 616.9 114.0C624.7 106.7 638.1 95.8 642.3 92.2"/>
<path d="M283.0 280.6C286.7 280.3 294.4 279.5 305.0 278.8C315.6 278.2 332.3 278.2 346.8 276.7C361.2 275.2 377.6 273.0 391.9 270.0C406.1 266.9 420.2 262.7 432.1 258.4C444.0 254.2 453.5 249.2 463.2 244.2C473.0 239.3 481.6 234.0 490.7 228.7C499.9 223.5 509.8 218.6 518.3 212.6C526.8 206.6 534.2 199.2 541.6 192.6C549.0 186.0 556.6 179.4 562.8 173.1C568.9 166.9 572.8 161.2 578.3 155.1C583.9 149.0 589.5 143.4 596.0 136.6C602.5 129.8 609.6 121.7 617.4 114.3C625.2 107.0 638.6 96.2 642.8 92.6"/>
<path d="M283.0 281.2C286.7 281.0 294.3 280.1 305.0 279.5C315.7 279.0 332.6 279.2 347.3 278.0C362.0 276.7 378.8 274.9 393.2 272.0C407.6 269.1 421.8 265.0 433.8 260.8C445.8 256.6 455.4 251.6 465.2 246.6C475.1 241.6 483.7 236.2 492.9 230.9C502.1 225.6 512.0 220.7 520.4 214.6C528.9 208.5 536.2 201.0 543.5 194.3C550.8 187.6 558.3 180.8 564.3 174.4C570.3 168.0 574.2 162.2 579.6 156.0C585.0 149.9 590.4 144.2 596.8 137.3C603.2 130.4 610.2 122.0 617.9 114.6C625.7 107.3 639.0 96.6 643.2 93.0"/>
<path d="M283.0 281.9C286.7 281.6 294.2 280.6 305.0 280.2C315.8 279.8 332.9 280.3 347.9 279.3C362.8 278.3 380.1 276.8 394.7 274.1C409.3 271.4 423.4 267.4 435.5 263.3C447.6 259.1 457.4 254.0 467.3 249.0C477.3 244.0 485.9 238.5 495.1 233.1C504.3 227.7 514.1 222.9 522.5 216.7C530.9 210.5 538.2 202.9 545.4 196.0C552.6 189.2 559.9 182.2 565.8 175.7C571.7 169.2 575.5 163.2 580.8 156.9C586.1 150.7 591.3 144.9 597.5 137.9C603.8 130.9 610.7 122.4 618.4 115.0C626.1 107.5 639.5 96.9 643.7 93.3"/>
<path d="M283.0 282.5C286.7 282.3 294.1 281.2 305.0 280.9C315.9 280.5 333.3 281.4 348.5 280.6C363.6 279.8 381.3 278.8 396.1 276.3C410.9 273.8 425.1 269.9 437.3 265.8C449.5 261.6 459.4 256.6 469.5 251.5C479.5 246.4 488.1 240.8 497.3 235.3C506.5 229.8 516.3 225.0 524.6 218.8C533.0 212.5 540.2 204.7 547.3 197.8C554.4 190.8 561.5 183.6 567.3 176.9C573.1 170.3 576.9 164.2 582.0 157.8C587.2 151.4 592.1 145.6 598.3 138.5C604.4 131.5 611.3 122.8 618.9 115.3C626.6 107.8 639.9 97.3 644.1 93.7"/>
<path d="M283.0 283.2C286.7 282.9 294.0 281.8 305.0 281.6C316.0 281.4 333.6 282.5 349.0 282.0C364.5 281.5 382.6 280.8 397.6 278.5C412.7 276.3 426.8 272.4 439.1 268.4C451.5 264.3 461.6 259.2 471.6 254.1C481.7 248.9 490.4 243.1 499.6 237.6C508.8 232.0 518.5 227.2 526.8 220.9C535.1 214.5 542.2 206.6 549.2 199.5C556.2 192.3 563.1 185.0 568.8 178.2C574.5 171.4 578.2 165.2 583.2 158.7C588.3 152.2 593.0 146.3 599.0 139.2C605.0 132.0 611.8 123.1 619.4 115.6C627.0 108.1 640.4 97.6 644.6 94.1"/>
<path d="M283.0 283.8C286.7 283.6 293.9 282.3 305.0 282.2C316.1 282.2 333.9 283.6 349.6 283.4C365.3 283.1 384.0 282.9 399.2 280.8C414.4 278.8 428.6 275.1 441.0 271.0C453.5 267.0 463.7 261.9 473.9 256.7C484.0 251.5 492.7 245.5 501.8 239.8C511.0 234.2 520.7 229.4 528.9 222.9C537.1 216.5 544.2 208.4 551.1 201.2C558.0 193.9 564.7 186.3 570.3 179.4C575.8 172.5 579.5 166.2 584.4 159.6C589.3 153.0 593.8 147.0 599.7 139.8C605.6 132.5 612.4 123.5 619.9 115.9C627.5 108.4 640.8 98.0 645.0 94.4"/>
</g>
</svg>

<!-- badge -->
<svg class="abs" style="left:40px;top:0" width="100" height="80" viewBox="40 0 100 80">
<line x1="54.5" y1="62" x2="120.5" y2="62" stroke="#aab3c4" stroke-width="0.8"/>
<circle cx="87.8" cy="38.4" r="30" fill="#f6f0e6" stroke="#6b6f78" stroke-width="0.7"/>
<circle cx="88.1" cy="38.6" r="32.6" fill="none" stroke="#4b556b" stroke-width="1"/>
<line x1="51" y1="65.3" x2="126" y2="65.3" stroke="#66758f" stroke-width="1"/>
<g stroke="#4a3a2a" stroke-width="0.9" fill="none" stroke-linecap="round"><path d="M58.8 36C59.5 41 61 47 62.4 50.5C64 55 67 60 71.8 65.7L74.7 68.5"/><path d="M62.4 55.6L55.2 57.7"/><path d="M66 60.6L61 63.5"/><path d="M93.9 13C100 14.5 106 16 111.5 18L113.7 20.2"/><path d="M110 17.3L106.4 23.8"/></g>
<g fill="#eaa631"><ellipse cx="59.5" cy="36.8" rx="2.4" ry="1.6"/><ellipse cx="61.7" cy="43.3" rx="1.8" ry="2.2"/><ellipse cx="65.3" cy="47.6" rx="2.3" ry="2"/><ellipse cx="63.9" cy="51.4" rx="1.8" ry="1.6"/><ellipse cx="56" cy="57.7" rx="2" ry="1.6"/><ellipse cx="62.4" cy="62" rx="2" ry="1.7"/><ellipse cx="72.5" cy="62.8" rx="1.5" ry="1.7"/><ellipse cx="95.6" cy="13.5" rx="2" ry="1.3"/><ellipse cx="103.6" cy="15" rx="2.2" ry="1.4"/><ellipse cx="111.5" cy="18.6" rx="1.7" ry="1.5"/><ellipse cx="107.2" cy="22.4" rx="1.4" ry="1.6"/></g>
<g fill="#f5cf70"><ellipse cx="53.6" cy="58.6" rx="1.7" ry="1.4"/><ellipse cx="64.6" cy="64.4" rx="2" ry="1.4"/><ellipse cx="63.3" cy="45.6" rx="1.5" ry="1.3"/><ellipse cx="99.2" cy="14.3" rx="1.8" ry="1.2"/><ellipse cx="107.9" cy="15.9" rx="1.7" ry="1.2"/><ellipse cx="60.6" cy="39.6" rx="1.3" ry="1.2"/></g>
</svg>
<div class="abs badge-num">2</div>

<svg class="abs" style="left:130px;top:64px" width="250" height="12" viewBox="130 64 250 12">
<line x1="131.5" y1="72.3" x2="370.7" y2="72.3" stroke="#4a5a28" stroke-width="0.9"/>
<line x1="302.5" y1="68.3" x2="370.7" y2="68.3" stroke="#4a5a28" stroke-width="0.9"/>
</svg>

<div class="abs h1"><span style="font-size:34px;letter-spacing:0.5px;position:relative;top:-1.6px">2020</span>年长沙房地产市场</div>
<div class="abs h2">长沙土地供销<span style="display:inline-block;transform:translateY(-2.3px) scaleY(1.5)">——</span>供求微跌，土地增值</div>
<div class="abs p" style="top:121.5px;letter-spacing:0.03px">今年土地供应建面<span class="em"><span class="d">1615</span>万方</span>，成交<span class="em"><span class="d">1399</span>万方</span>，同比均有小幅下滑，其中<span class="d">3</span>宗含商占比大的地块流拍；土地出</div>
<div class="abs p" style="top:154.5px;letter-spacing:0.02px">让金<span class="em"><span class="d">595</span>亿元</span>，创近<span class="em">十年新高</span>；<span class="em">供求回落</span>而出让金稳涨，<span class="em">中期库存增量有放缓趋势</span>。</div>

<!-- logo -->
<div class="abs logo">星河湾集团</div>
<div class="abs logo2">Star River Group</div>
<svg class="abs" style="left:700px;top:60px" width="130" height="30" viewBox="700 60 130 30">
<path d="M701.6 71.4C712 72.5 722 73 731.5 72.8C742 72.6 752 71.8 760.6 69.9C768 68.2 776 65 782.5 61.9C778 67 773 70 768 71.4C763 73.5 758 74.5 753.3 75C746 76.2 738 76.6 731.5 76.5C723 76.5 715 76.3 709.6 75.7Z" fill="#b08a2a"/><path d="M710.3 78.6C720 79.3 730 79.6 738.8 79.4C747 79 754 78 760.6 76.5C767 75 772 73 776.7 70.6C781 68.5 785 66 788.3 64.8C786 68 784 70.5 782.5 72C779 75 775 76.5 770.8 78.2C766 80.2 761 81.5 756.3 82.3C750 83.8 744 84.8 738.8 85.2C731 85.6 724 85.5 718.3 85.2Z" fill="#b08a2a"/>
</svg>

<div class="abs ct"><span id="ct1">长沙市内六区经营性用地建筑面积供销量走势（</span><span id="ct2" class="d2">2011-2020</span><span id="ct3" style="margin-left:3px">）</span></div>

<!-- chart -->
<svg class="abs" style="left:0;top:250px" width="620" height="250" viewBox="0 250 620 250" font-family="'Liberation Sans',sans-serif" font-size="9.4" fill="#404040">
<g style="filter:drop-shadow(1.3px 0.3px 0.9px rgba(0,0,0,.38))">
<rect x="73.7" y="383.0" width="14.4" height="93.0" fill="#a6a6a6"/>
<rect x="88.1" y="403.0" width="14.4" height="73.0" fill="#d84a38"/>
<rect x="123.9" y="329.7" width="14.4" height="146.3" fill="#a6a6a6"/>
<rect x="138.3" y="344.7" width="14.4" height="131.3" fill="#d84a38"/>
<rect x="174.1" y="300.7" width="14.4" height="175.3" fill="#a6a6a6"/>
<rect x="188.5" y="315.4" width="14.4" height="160.6" fill="#d84a38"/>
<rect x="224.3" y="349.0" width="14.4" height="127.0" fill="#a6a6a6"/>
<rect x="238.7" y="376.4" width="14.4" height="99.6" fill="#d84a38"/>
<rect x="274.5" y="432.8" width="14.4" height="43.2" fill="#a6a6a6"/>
<rect x="288.9" y="442.6" width="14.4" height="33.4" fill="#d84a38"/>
<rect x="324.7" y="418.2" width="14.4" height="57.8" fill="#a6a6a6"/>
<rect x="339.1" y="425.3" width="14.4" height="50.7" fill="#d84a38"/>
<rect x="374.9" y="433.6" width="14.4" height="42.4" fill="#a6a6a6"/>
<rect x="389.3" y="438.1" width="14.4" height="37.9" fill="#d84a38"/>
<rect x="425.1" y="377.3" width="14.4" height="98.7" fill="#a6a6a6"/>
<rect x="439.5" y="394.2" width="14.4" height="81.8" fill="#d84a38"/>
<rect x="475.3" y="347.3" width="14.4" height="128.7" fill="#a6a6a6"/>
<rect x="489.7" y="366.1" width="14.4" height="109.9" fill="#d84a38"/>
<rect x="525.5" y="362.0" width="14.4" height="114.0" fill="#a6a6a6"/>
<rect x="539.9" y="377.2" width="14.4" height="98.8" fill="#d84a38"/>
</g>
<g stroke="#8a8a8a" stroke-width="0.8" fill="none">
<line x1="62.3" y1="264" x2="62.3" y2="476"/>
<line x1="564.5" y1="264" x2="564.5" y2="476"/>
<line x1="62.3" y1="476" x2="564.5" y2="476"/>
<line x1="59.3" y1="476.0" x2="62.3" y2="476.0"/>
<line x1="59.3" y1="440.7" x2="62.3" y2="440.7"/>
<line x1="59.3" y1="405.4" x2="62.3" y2="405.4"/>
<line x1="59.3" y1="370.1" x2="62.3" y2="370.1"/>
<line x1="59.3" y1="334.8" x2="62.3" y2="334.8"/>
<line x1="59.3" y1="299.5" x2="62.3" y2="299.5"/>
<line x1="59.3" y1="264.2" x2="62.3" y2="264.2"/>
<line x1="564.5" y1="476.0" x2="567.5" y2="476.0"/>
<line x1="564.5" y1="445.7" x2="567.5" y2="445.7"/>
<line x1="564.5" y1="415.4" x2="567.5" y2="415.4"/>
<line x1="564.5" y1="385.1" x2="567.5" y2="385.1"/>
<line x1="564.5" y1="354.8" x2="567.5" y2="354.8"/>
<line x1="564.5" y1="324.5" x2="567.5" y2="324.5"/>
<line x1="564.5" y1="294.2" x2="567.5" y2="294.2"/>
<line x1="564.5" y1="263.9" x2="567.5" y2="263.9"/>
<line x1="112.5" y1="476" x2="112.5" y2="479"/>
<line x1="162.7" y1="476" x2="162.7" y2="479"/>
<line x1="212.9" y1="476" x2="212.9" y2="479"/>
<line x1="263.1" y1="476" x2="263.1" y2="479"/>
<line x1="313.3" y1="476" x2="313.3" y2="479"/>
<line x1="363.5" y1="476" x2="363.5" y2="479"/>
<line x1="413.7" y1="476" x2="413.7" y2="479"/>
<line x1="463.9" y1="476" x2="463.9" y2="479"/>
<line x1="514.1" y1="476" x2="514.1" y2="479"/>
<line x1="564.3" y1="476" x2="564.3" y2="479"/>
</g>
<path d="M87.4 415.4C95.8 412.8 120.9 412.8 137.6 399.9C154.3 387.1 171.1 338.7 187.8 338.1C204.5 337.6 221.3 376.9 238.0 396.6C254.7 416.3 271.5 451.2 288.2 456.3C304.9 461.5 321.7 433.6 338.4 427.5C355.1 421.5 371.9 431.0 388.6 419.9C405.3 408.9 422.1 379.3 438.8 361.2C455.5 343.0 472.3 322.1 489.0 311.2C505.7 300.3 530.8 298.3 539.2 295.7" fill="none" stroke="#434f69" stroke-width="2" stroke-linecap="round"/>
<g>
<text x="56" y="479.2" text-anchor="end">0</text>
<text x="56" y="443.9" text-anchor="end">500</text>
<text x="56" y="408.6" text-anchor="end">1000</text>
<text x="56" y="373.3" text-anchor="end">1500</text>
<text x="56" y="338.0" text-anchor="end">2000</text>
<text x="56" y="302.7" text-anchor="end">2500</text>
<text x="56" y="267.4" text-anchor="end">3000</text>
<text x="572.3" y="479.7">0.00</text>
<text x="572.3" y="449.4">100.00</text>
<text x="572.3" y="419.1">200.00</text>
<text x="572.3" y="388.8">300.00</text>
<text x="572.3" y="358.5">400.00</text>
<text x="572.3" y="328.2">500.00</text>
<text x="572.3" y="297.9">600.00</text>
<text x="572.3" y="267.6">700.00</text>
<text x="87.4" y="488" text-anchor="middle">2011</text>
<text x="137.6" y="488" text-anchor="middle">2012</text>
<text x="187.8" y="488" text-anchor="middle">2013</text>
<text x="238.0" y="488" text-anchor="middle">2014</text>
<text x="288.2" y="488" text-anchor="middle">2015</text>
<text x="338.4" y="488" text-anchor="middle">2016</text>
<text x="388.6" y="488" text-anchor="middle">2017</text>
<text x="438.8" y="488" text-anchor="middle">2018</text>
<text x="489.0" y="488" text-anchor="middle">2019</text>
<text x="539.2" y="488" text-anchor="middle">2020</text>
</g>
<rect x="126" y="269" width="16.5" height="3.6" fill="#a6a6a6"/>
<text x="145.3" y="274" font-size="9">供应总建筑面积（万方）</text>
<rect x="287.5" y="269" width="16.5" height="3.6" fill="#d84a38"/>
<text x="307" y="274" font-size="9">成交总建筑面积(万方)</text>
<line x1="436" y1="270.8" x2="456" y2="270.8" stroke="#3f4a68" stroke-width="1.5"/>
<text x="456.8" y="274" font-size="9">成交价（亿元）</text>
<text x="547" y="298.8" font-weight="bold" font-size="9.8" fill="#262626">595</text>
<text x="521.3" y="355.8" font-weight="bold" font-size="10" fill="#262626">1615</text>
<text x="536.3" y="371" font-weight="bold" font-size="10" fill="#262626">1399</text>
</svg>

<!-- boxes -->
<div class="box" style="top:230px;height:64.5px"></div>
<div class="lab" style="top:205.8px;height:25.2px;line-height:28.5px">供应</div>
<div class="abs val" style="left:659px;top:247px"><span class="d">1615</span>万方</div>
<div class="abs pct" style="left:781px;top:246px;color:#4f6228">11%</div>

<div class="box" style="top:330px;height:62.5px"></div>
<div class="lab" style="top:302.5px;height:28px;line-height:31px">成交</div>
<div class="abs val" style="left:655.5px;top:341px;font-size:21.6px"><span class="d">1399</span>万方</div>
<div class="abs pct" style="left:779.3px;top:342px;color:#4f6228">9.8%</div>

<div class="box" style="top:427.5px;height:61px"></div>
<div class="lab" style="top:397px;height:30.5px;line-height:33.2px">出让金</div>
<div class="abs val" style="left:656px;top:444.7px;font-size:21.6px"><span class="d">595</span>亿元</div>
<div class="abs pct" style="left:781.8px;top:438.6px;color:#d84a38">8.8%</div>

<svg class="abs" style="left:750px;top:240px" width="40" height="245" viewBox="750 240 40 245">
<path d="M762.6 248.2h6.4v31.8h3.5l-6.7 6.4l-6.7-6.4h3.5z" fill="#4f6228"/>
<path d="M763.2 338.2h6.4v31h3.5l-6.7 6.4l-6.7-6.4h3.5z" fill="#4f6228"/>
<path d="M763.3 475h6.6v-32.3h3.5l-6.8-6.6l-6.8 6.6h3.5z" fill="#d84a38"/>
</svg>

<div class="abs src">来源：湖南中原市场报告</div>
</body>
</html>
